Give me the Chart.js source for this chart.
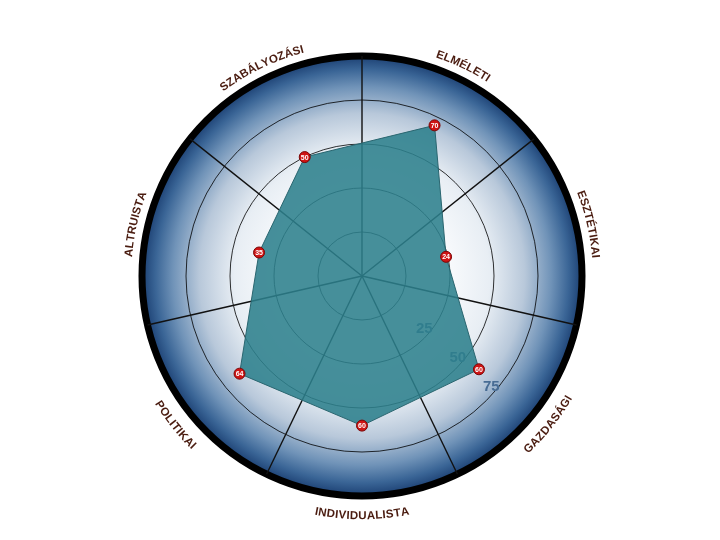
<!DOCTYPE html>
<html><head><meta charset="utf-8">
<script src="https://cdn.jsdelivr.net/npm/chart.js@4.4.0/dist/chart.umd.min.js"></script>
<style>html,body{margin:0;padding:0;background:#fff;}canvas{display:block;}</style>
</head><body>
<canvas id="c" width="720" height="540"></canvas>
<script>
const categories = ['ELMÉLETI','ESZTÉTIKAI','GAZDASÁGI','INDIVIDUALISTA','POLITIKAI','ALTRUISTA','SZABÁLYOZÁSI'];
const values = [70, 24, 60, 60, 64, 35, 50];
const tickLabels = [25, 50, 75];
const scaleMin = -25;
const scaleMax = 100;
const scaleStep = 25;

const decor = {
  id: 'decor',
  beforeDraw(chart) {
    const s = chart.scales.r, ctx = chart.ctx;
    const cx = s.xCenter, cy = s.yCenter, R = s.drawingArea;
    const g = ctx.createRadialGradient(cx, cy, 0, cx, cy, R);
    g.addColorStop(0, '#ffffff');
    g.addColorStop(0.35, '#fcfdfe');
    g.addColorStop(0.58, '#e8eef4');
    g.addColorStop(0.74, '#b8c8da');
    g.addColorStop(0.86, '#7093b8');
    g.addColorStop(0.94, '#3a6596');
    g.addColorStop(1, '#1b3f72');
    ctx.save();
    ctx.beginPath();
    ctx.arc(cx, cy, R, 0, Math.PI * 2);
    ctx.fillStyle = g;
    ctx.fill();
    ctx.restore();
  },
  beforeDatasetsDraw(chart) {
    const s = chart.scales.r, ctx = chart.ctx;
    const cx = s.xCenter, cy = s.yCenter, R = s.drawingArea;
    const n = categories.length;
    ctx.save();
    ctx.strokeStyle = '#111';
    ctx.lineWidth = 1.4;
    for (let i = 0; i < n; i++) {
      const a = s.getIndexAngle(i) - Math.PI / n - Math.PI / 2;
      ctx.beginPath();
      ctx.moveTo(cx, cy);
      ctx.lineTo(cx + Math.cos(a) * R, cy + Math.sin(a) * R);
      ctx.stroke();
    }
    ctx.font = 'bold 15px "Liberation Sans", Arial, sans-serif';
    ctx.fillStyle = 'rgb(72,108,148)';
    ctx.textAlign = 'center';
    ctx.textBaseline = 'middle';
    const ta = 130.5 * Math.PI / 180;
    tickLabels.forEach(v => {
      const r = s.getDistanceFromCenterForValue(v) - 6;
      ctx.fillText(String(v), cx + Math.sin(ta) * r, cy - Math.cos(ta) * r);
    });
    ctx.restore();
  },
  afterDatasetsDraw(chart) {
    const s = chart.scales.r, ctx = chart.ctx;
    const cx = s.xCenter, cy = s.yCenter;
    const meta = chart.getDatasetMeta(0);
    ctx.save();
    ctx.font = 'bold 7px "Liberation Sans", Arial, sans-serif';
    ctx.fillStyle = '#ffffff';
    ctx.textAlign = 'center';
    ctx.textBaseline = 'middle';
    meta.data.forEach((pt, i) => {
      ctx.fillText(String(values[i]), pt.x, pt.y + 0.5);
    });
    ctx.font = 'bold 11.5px "Liberation Sans", Arial, sans-serif';
    ctx.fillStyle = '#4a1c10';
    const ls = 0.2;
    categories.forEach((text, i) => {
      const ca = s.getIndexAngle(i);
      const bottom = Math.cos(ca) < 0;
      const rText = bottom ? 240 : 234;
      const chars = [...text];
      const w = chars.map(ch => ctx.measureText(ch).width);
      const total = w.reduce((a, b) => a + b, 0) + ls * (chars.length - 1);
      let ang = bottom ? ca + total / rText / 2 : ca - total / rText / 2;
      chars.forEach((ch, k) => {
        const half = w[k] / 2 / rText;
        const a = bottom ? ang - half : ang + half;
        const x = cx + rText * Math.sin(a), y = cy - rText * Math.cos(a);
        ctx.save();
        ctx.translate(x, y);
        ctx.rotate(bottom ? a - Math.PI : a);
        ctx.fillText(ch, 0, 0);
        ctx.restore();
        const step = (w[k] + ls) / rText;
        ang = bottom ? ang - step : ang + step;
      });
    });
    ctx.restore();
  }
};

new Chart(document.getElementById('c'), {
  type: 'radar',
  data: {
    labels: categories,
    datasets: [{
      data: values,
      fill: 'start',
      backgroundColor: 'rgba(44,128,140,0.88)',
      borderColor: '#2a6670',
      borderWidth: 1,
      pointRadius: 5.5,
      pointHoverRadius: 5.5,
      pointBackgroundColor: '#cf1414',
      pointBorderColor: '#7a0606',
      pointBorderWidth: 1
    }]
  },
  options: {
    responsive: false,
    animation: false,
    devicePixelRatio: 1,
    layout: { padding: { top: 56, bottom: 44, left: 4, right: 0 } },
    plugins: { legend: { display: false }, tooltip: { enabled: false } },
    scales: {
      r: {
        min: scaleMin,
        max: scaleMax,
        startAngle: 360 / (categories.length * 2),
        ticks: { display: false, stepSize: scaleStep },
        pointLabels: { display: false },
        angleLines: { display: false },
        grid: {
          circular: true,
          color: '#000',
          lineWidth: (c) => c.tick && c.tick.value === scaleMax ? 7 : (c.tick && c.tick.value === scaleMin ? 0 : 0.8)
        }
      }
    }
  },
  plugins: [decor]
});
</script>
</body></html>
